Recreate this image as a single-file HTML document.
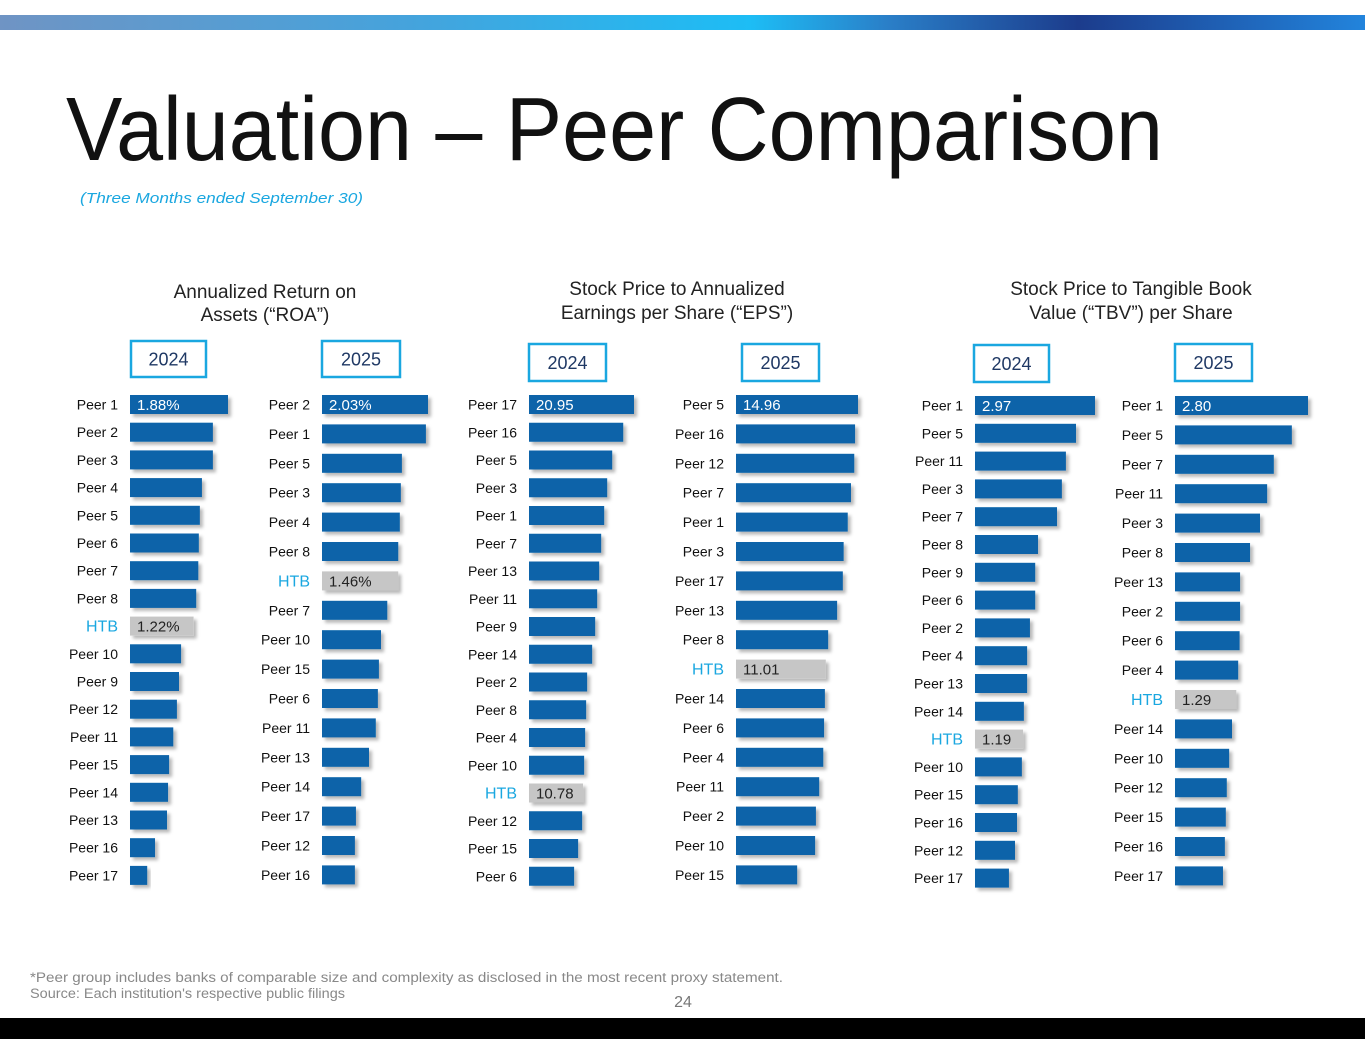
<!DOCTYPE html>
<html><head><meta charset="utf-8"><style>
html,body{margin:0;padding:0;background:#fff;}
svg{display:block;font-family:"Liberation Sans",sans-serif;}
</style></head><body>
<svg id="chart" width="1365" height="1055" viewBox="0 0 1365 1055" xmlns="http://www.w3.org/2000/svg">
<defs>
<linearGradient id="topg" x1="0" x2="1" y1="0" y2="0">
<stop offset="0" stop-color="#6f94c4"/><stop offset="0.3" stop-color="#45a3dc"/>
<stop offset="0.55" stop-color="#1dbdf5"/><stop offset="0.65" stop-color="#2a7fc8"/>
<stop offset="0.79" stop-color="#1c3c8c"/><stop offset="1" stop-color="#2284dc"/>
</linearGradient>
<filter id="sh" x="-10%" y="-20%" width="130%" height="160%"><feDropShadow dx="3" dy="3" stdDeviation="1.5" flood-color="#000" flood-opacity="0.28"/></filter>
</defs>
<rect x="0" y="15" width="1365" height="15" fill="url(#topg)"/>
<text x="66" y="160" font-size="90" fill="#111" textLength="1097" lengthAdjust="spacingAndGlyphs">Valuation – Peer Comparison</text>
<text x="80" y="203" font-size="15" font-style="italic" fill="#1aa7e0" textLength="283" lengthAdjust="spacingAndGlyphs">(Three Months ended September 30)</text>
<text x="30" y="982" font-size="13.5" fill="#888" textLength="753" lengthAdjust="spacingAndGlyphs">*Peer group includes banks of comparable size and complexity as disclosed in the most recent proxy statement.</text>
<text x="30" y="998" font-size="13.5" fill="#888" textLength="315" lengthAdjust="spacingAndGlyphs">Source: Each institution's respective public filings</text>
<text x="683" y="1007" font-size="16" fill="#777" text-anchor="middle">24</text>
<rect x="0" y="1018" width="1365" height="21" fill="#000"/>
<g id="panels"></g>
</svg>
<script>
// ROA
const roa24Labels=["Peer 1","Peer 2","Peer 3","Peer 4","Peer 5","Peer 6","Peer 7","Peer 8","HTB","Peer 10","Peer 9","Peer 12","Peer 11","Peer 15","Peer 14","Peer 13","Peer 16","Peer 17"];
const roa24Values=[1.88,1.59,1.59,1.38,1.34,1.32,1.31,1.27,1.22,0.98,0.94,0.90,0.83,0.75,0.73,0.71,0.48,0.33];
const roa25Labels=["Peer 2","Peer 1","Peer 5","Peer 3","Peer 4","Peer 8","HTB","Peer 7","Peer 10","Peer 15","Peer 6","Peer 11","Peer 13","Peer 14","Peer 17","Peer 12","Peer 16"];
const roa25Values=[2.03,1.99,1.53,1.51,1.49,1.46,1.46,1.25,1.13,1.09,1.07,1.03,0.90,0.75,0.65,0.63,0.63];
// EPS
const eps24Labels=["Peer 17","Peer 16","Peer 5","Peer 3","Peer 1","Peer 7","Peer 13","Peer 11","Peer 9","Peer 14","Peer 2","Peer 8","Peer 4","Peer 10","HTB","Peer 12","Peer 15","Peer 6"];
const eps24Values=[20.95,18.8,16.6,15.6,15.0,14.4,14.0,13.6,13.2,12.6,11.6,11.4,11.2,11.0,10.78,10.6,9.8,9.0];
const eps25Labels=["Peer 5","Peer 16","Peer 12","Peer 7","Peer 1","Peer 3","Peer 17","Peer 13","Peer 8","HTB","Peer 14","Peer 6","Peer 4","Peer 11","Peer 2","Peer 10","Peer 15"];
const eps25Values=[14.96,14.6,14.5,14.1,13.7,13.2,13.1,12.4,11.3,11.01,10.9,10.8,10.7,10.2,9.8,9.7,7.5];
// TBV
const tbv24Labels=["Peer 1","Peer 5","Peer 11","Peer 3","Peer 7","Peer 8","Peer 9","Peer 6","Peer 2","Peer 4","Peer 13","Peer 14","HTB","Peer 10","Peer 15","Peer 16","Peer 12","Peer 17"];
const tbv24Values=[2.97,2.50,2.25,2.15,2.03,1.56,1.49,1.49,1.36,1.29,1.29,1.21,1.19,1.16,1.06,1.04,0.99,0.84];
const tbv25Labels=["Peer 1","Peer 5","Peer 7","Peer 11","Peer 3","Peer 8","Peer 13","Peer 2","Peer 6","Peer 4","HTB","Peer 14","Peer 10","Peer 12","Peer 15","Peer 16","Peer 17"];
const tbv25Values=[2.80,2.46,2.08,1.94,1.79,1.58,1.37,1.37,1.36,1.33,1.29,1.20,1.14,1.09,1.07,1.05,1.01];

const NS="http://www.w3.org/2000/svg";
const root=document.getElementById('panels');
function mk(tag,attrs,parent){const e=document.createElementNS(NS,tag);for(const k in attrs)e.setAttribute(k,attrs[k]);(parent||root).appendChild(e);return e;}

const titles=[
 {x:265,y1:298,y2:321,l1:"Annualized Return on",l2:"Assets (\u201CROA\u201D)",name:"roa-title"},
 {x:677,y1:295,y2:319,l1:"Stock Price to Annualized",l2:"Earnings per Share (\u201CEPS\u201D)",name:"eps-title"},
 {x:1131,y1:295,y2:319,l1:"Stock Price to Tangible Book",l2:"Value (\u201CTBV\u201D) per Share",name:"tbv-title"}];
titles.forEach(t=>{
 const tx=mk('text',{x:t.x,y:t.y1,'font-size':19,fill:'#222','text-anchor':'middle'});
 
 
 tx.textContent=t.l1;
 const tx2=mk('text',{x:t.x,y:t.y2,'font-size':19,fill:'#222','text-anchor':'middle'});
 
 
 tx2.textContent=t.l2;
});

const panels=[
 {labels:roa24Labels,values:roa24Values,year:"2024",x0:130,max:1.88,w:98,y0:395,dy:27.7,box:[131,341,75,36],fmt:v=>v.toFixed(2)+"%",id:"roa-2024"},
 {labels:roa25Labels,values:roa25Values,year:"2025",x0:322,max:2.03,w:106,y0:395,dy:29.4,box:[322,341,78,36],fmt:v=>v.toFixed(2)+"%",id:"roa-2025"},
 {labels:eps24Labels,values:eps24Values,year:"2024",x0:529,max:20.95,w:105,y0:395,dy:27.75,box:[529,344,77,37],fmt:v=>v.toFixed(2),id:"eps-2024"},
 {labels:eps25Labels,values:eps25Values,year:"2025",x0:736,max:14.96,w:122,y0:395,dy:29.4,box:[742,344,77,37],fmt:v=>v.toFixed(2),id:"eps-2025"},
 {labels:tbv24Labels,values:tbv24Values,year:"2024",x0:975,max:2.97,w:120,y0:396,dy:27.8,box:[974,345,75,37],fmt:v=>v.toFixed(2),id:"tbv-2024"},
 {labels:tbv25Labels,values:tbv25Values,year:"2025",x0:1175,max:2.80,w:133,y0:396,dy:29.4,box:[1175,344,77,37],fmt:v=>v.toFixed(2),id:"tbv-2025"}];

panels.forEach(p=>{
 const g=mk('g',{});
 
 
 const b=mk('rect',{x:p.box[0],y:p.box[1],width:p.box[2],height:p.box[3],fill:'#fff',stroke:'#1aa7e0','stroke-width':2.5},g);
 
 
 const yt=mk('text',{x:p.box[0]+p.box[2]/2,y:p.box[1]+p.box[3]/2+6.5,'font-size':18,fill:'#1f3864','text-anchor':'middle'},g);
 
 
 yt.textContent=p.year;
 const sx=v=>v/p.max*p.w;
 p.values.forEach((v,i)=>{
  const y=p.y0+i*p.dy;
  const htb=p.labels[i]==="HTB";
  const r=mk('rect',{x:p.x0,y:y,width:sx(v),height:19,fill:htb?'#c6c6c6':'#0b64a9',filter:'url(#sh)'},g);
  
  
  const l=mk('text',{x:p.x0-12,y:y+(htb?15:14.5),'font-size':htb?16:14,fill:htb?'#1aa7e0':'#111','text-anchor':'end'},g);
  
  
  l.textContent=p.labels[i];
  if(i===0||htb){
   const vt=mk('text',{x:p.x0+7,y:y+15,'font-size':15,fill:htb?'#222':'#fff'},g);
   
   
   vt.textContent=p.fmt(v);
  }
 });
});
</script>
</body></html>
